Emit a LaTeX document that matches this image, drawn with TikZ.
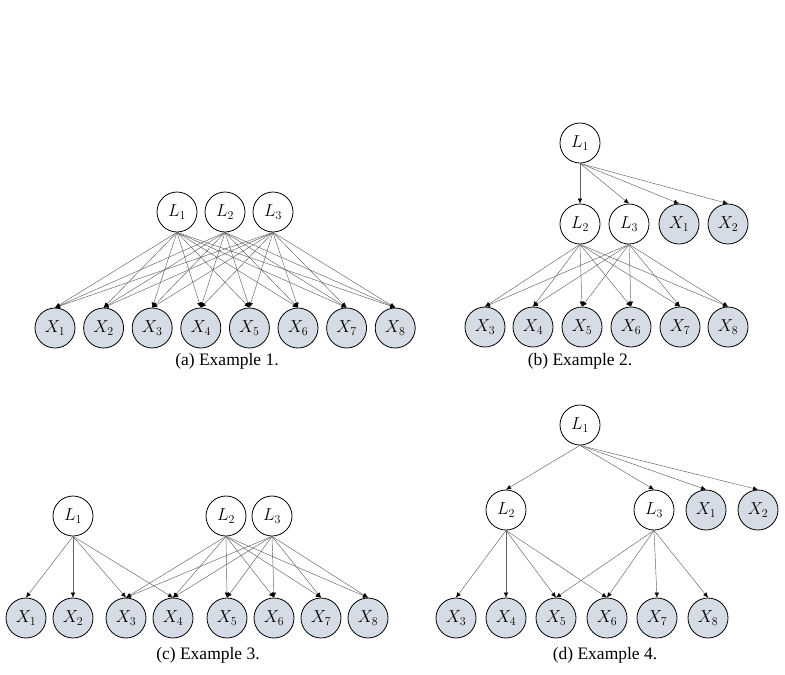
\documentclass[tikz,border=0pt]{standalone}
\usepackage{fontspec}
\newfontfamily\capfont{Liberation Serif}
\usetikzlibrary{arrows.meta}
\definecolor{obsfill}{HTML}{D6DCE5}
\begin{document}
\begin{tikzpicture}[x=1pt,y=-1pt,
  latent/.style={circle, draw=black, line width=0.8pt, minimum size=40pt, inner sep=0pt, fill=white, font=\fontsize{16.5}{19}\selectfont},
  obs/.style={latent, fill=obsfill},
  edge/.style={draw=black!62, line width=0.45pt, -{Latex[length=5pt,width=4.5pt,black]}},
  caption/.style={font=\capfont\fontsize{17.5}{20}\selectfont, inner sep=0pt}]
\useasboundingbox (0,0) rectangle (785,675);
% ---------- (a) ----------
\node[latent] (aL1) at (177,212) {$L_1$};
\node[latent] (aL2) at (225,212) {$L_2$};
\node[latent] (aL3) at (273,212) {$L_3$};
\foreach \i/\x in {1/55,2/103.6,3/152.2,4/200.8,5/249.4,6/298,7/346.6,8/395.2}
  \node[obs] (aX\i) at (\x,328) {$X_\i$};
\foreach \l in {1,2,3}
  \foreach \i in {1,...,8}
    \draw[edge] (aL\l.south) -- (aX\i.north);
\node[caption] (capa) at (227,361) {(a) Example 1.};
% ---------- (b) ----------
\node[latent] (bL1) at (580,143) {$L_1$};
\node[latent] (bL2) at (580,224) {$L_2$};
\node[latent] (bL3) at (629,224) {$L_3$};
\node[obs] (bX1) at (679,224) {$X_1$};
\node[obs] (bX2) at (728,224) {$X_2$};
\foreach \i/\x in {3/485,4/533,5/582,6/631,7/680,8/728}
  \node[obs] (bX\i) at (\x,327) {$X_\i$};
\foreach \t in {bL2,bL3,bX1,bX2}
  \draw[edge] (bL1.south) -- (\t.north);
\foreach \l in {2,3}
  \foreach \i in {3,...,8}
    \draw[edge] (bL\l.south) -- (bX\i.north);
\node[caption] (capb) at (580,361) {(b) Example 2.};
% ---------- (c) ----------
\node[latent] (cL1) at (73,516) {$L_1$};
\node[latent] (cL2) at (226,516) {$L_2$};
\node[latent] (cL3) at (272,516) {$L_3$};
\foreach \i/\x in {1/26,2/73,3/126,4/173,5/227,6/274,7/321,8/368}
  \node[obs] (cX\i) at (\x,618) {$X_\i$};
\foreach \i in {1,...,4}
  \draw[edge] (cL1.south) -- (cX\i.north);
\foreach \l in {2,3}
  \foreach \i in {3,...,8}
    \draw[edge] (cL\l.south) -- (cX\i.north);
\node[caption] (capc) at (208,655) {(c) Example 3.};
% ---------- (d) ----------
\node[latent] (dL1) at (580,425) {$L_1$};
\node[latent] (dL2) at (506,510) {$L_2$};
\node[latent] (dL3) at (654,510) {$L_3$};
\node[obs] (dX1) at (706,510) {$X_1$};
\node[obs] (dX2) at (758,510) {$X_2$};
\foreach \i/\x in {3/456,4/506,5/556,6/607,7/657,8/708}
  \node[obs] (dX\i) at (\x,618) {$X_\i$};
\foreach \t in {dL2,dL3,dX1,dX2}
  \draw[edge] (dL1.south) -- (\t.north);
\foreach \i in {3,...,6}
  \draw[edge] (dL2.south) -- (dX\i.north);
\foreach \i in {5,...,8}
  \draw[edge] (dL3.south) -- (dX\i.north);
\node[caption] (capd) at (605,655) {(d) Example 4.};
\end{tikzpicture}
\end{document}
